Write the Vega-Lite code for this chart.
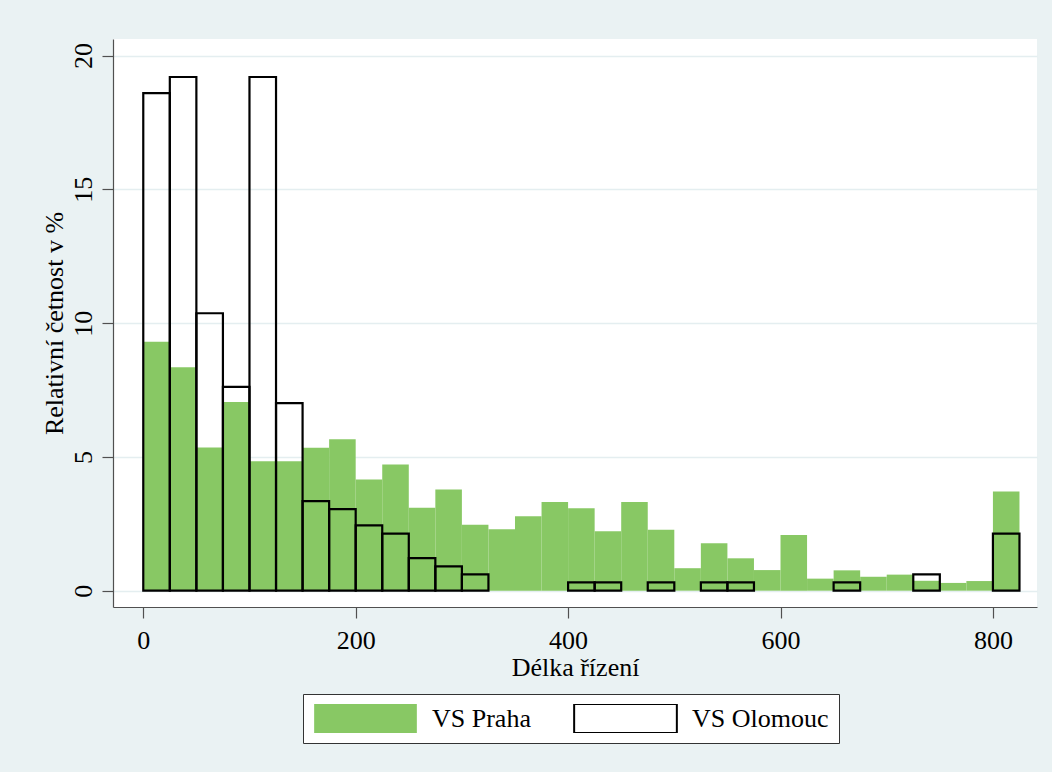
{
  "$schema": "https://vega.github.io/schema/vega-lite/v6.json",
  "width": 924,
  "height": 568,
  "autosize": {"type": "none"},
  "padding": {"left": 113, "top": 39, "right": 15, "bottom": 165},
  "background": "#EAF2F3",
  "config": {
    "view": {"fill": "white", "stroke": null},
    "font": "Liberation Serif",
    "axis": {
      "labelFont": "Liberation Serif",
      "labelFontSize": 26,
      "labelColor": "black",
      "titleFont": "Liberation Serif",
      "titleFontSize": 26,
      "titleFontWeight": "normal",
      "titleColor": "black",
      "domainColor": "#505050",
      "domainWidth": 1.2,
      "tickColor": "#505050",
      "tickWidth": 1.2,
      "tickSize": 11
    }
  },
  "data": {
    "values": [
      {"series": "VS Praha", "lo": 0, "hi": 25, "pct": 9.3},
      {"series": "VS Praha", "lo": 25, "hi": 50, "pct": 8.35},
      {"series": "VS Praha", "lo": 50, "hi": 75, "pct": 5.35},
      {"series": "VS Praha", "lo": 75, "hi": 100, "pct": 7.05},
      {"series": "VS Praha", "lo": 100, "hi": 125, "pct": 4.84},
      {"series": "VS Praha", "lo": 125, "hi": 150, "pct": 4.84},
      {"series": "VS Praha", "lo": 150, "hi": 175, "pct": 5.34},
      {"series": "VS Praha", "lo": 175, "hi": 200, "pct": 5.66},
      {"series": "VS Praha", "lo": 200, "hi": 225, "pct": 4.16},
      {"series": "VS Praha", "lo": 225, "hi": 250, "pct": 4.72},
      {"series": "VS Praha", "lo": 250, "hi": 275, "pct": 3.1},
      {"series": "VS Praha", "lo": 275, "hi": 300, "pct": 3.78},
      {"series": "VS Praha", "lo": 300, "hi": 325, "pct": 2.46},
      {"series": "VS Praha", "lo": 325, "hi": 350, "pct": 2.3},
      {"series": "VS Praha", "lo": 350, "hi": 375, "pct": 2.78},
      {"series": "VS Praha", "lo": 375, "hi": 400, "pct": 3.31},
      {"series": "VS Praha", "lo": 400, "hi": 425, "pct": 3.08},
      {"series": "VS Praha", "lo": 425, "hi": 450, "pct": 2.22},
      {"series": "VS Praha", "lo": 450, "hi": 475, "pct": 3.31},
      {"series": "VS Praha", "lo": 475, "hi": 500, "pct": 2.28},
      {"series": "VS Praha", "lo": 500, "hi": 525, "pct": 0.84},
      {"series": "VS Praha", "lo": 525, "hi": 550, "pct": 1.77},
      {"series": "VS Praha", "lo": 550, "hi": 575, "pct": 1.21},
      {"series": "VS Praha", "lo": 575, "hi": 600, "pct": 0.77},
      {"series": "VS Praha", "lo": 600, "hi": 625, "pct": 2.08},
      {"series": "VS Praha", "lo": 625, "hi": 650, "pct": 0.45},
      {"series": "VS Praha", "lo": 650, "hi": 675, "pct": 0.76},
      {"series": "VS Praha", "lo": 675, "hi": 700, "pct": 0.52},
      {"series": "VS Praha", "lo": 700, "hi": 725, "pct": 0.6},
      {"series": "VS Praha", "lo": 725, "hi": 750, "pct": 0.37},
      {"series": "VS Praha", "lo": 750, "hi": 775, "pct": 0.29},
      {"series": "VS Praha", "lo": 775, "hi": 800, "pct": 0.36},
      {"series": "VS Praha", "lo": 800, "hi": 825, "pct": 3.71},
      {"series": "VS Olomouc", "lo": 0, "hi": 25, "pct": 18.6},
      {"series": "VS Olomouc", "lo": 25, "hi": 50, "pct": 19.2},
      {"series": "VS Olomouc", "lo": 50, "hi": 75, "pct": 10.37},
      {"series": "VS Olomouc", "lo": 75, "hi": 100, "pct": 7.62},
      {"series": "VS Olomouc", "lo": 100, "hi": 125, "pct": 19.2},
      {"series": "VS Olomouc", "lo": 125, "hi": 150, "pct": 7.01},
      {"series": "VS Olomouc", "lo": 150, "hi": 175, "pct": 3.35},
      {"series": "VS Olomouc", "lo": 175, "hi": 200, "pct": 3.05},
      {"series": "VS Olomouc", "lo": 200, "hi": 225, "pct": 2.44},
      {"series": "VS Olomouc", "lo": 225, "hi": 250, "pct": 2.13},
      {"series": "VS Olomouc", "lo": 250, "hi": 275, "pct": 1.22},
      {"series": "VS Olomouc", "lo": 275, "hi": 300, "pct": 0.91},
      {"series": "VS Olomouc", "lo": 300, "hi": 325, "pct": 0.61},
      {"series": "VS Olomouc", "lo": 400, "hi": 425, "pct": 0.31},
      {"series": "VS Olomouc", "lo": 425, "hi": 450, "pct": 0.31},
      {"series": "VS Olomouc", "lo": 475, "hi": 500, "pct": 0.31},
      {"series": "VS Olomouc", "lo": 525, "hi": 550, "pct": 0.31},
      {"series": "VS Olomouc", "lo": 550, "hi": 575, "pct": 0.31},
      {"series": "VS Olomouc", "lo": 650, "hi": 675, "pct": 0.31},
      {"series": "VS Olomouc", "lo": 725, "hi": 750, "pct": 0.61},
      {"series": "VS Olomouc", "lo": 800, "hi": 825, "pct": 2.13}
    ]
  },
  "encoding": {
    "x": {
      "field": "lo",
      "type": "quantitative",
      "title": "Délka řízení",
      "scale": {"domain": [-28.5, 841.5], "nice": false, "zero": false},
      "axis": {"values": [0, 200, 400, 600, 800], "grid": false, "labelPadding": 9, "titlePadding": 1, "labelFlush": false}
    },
    "x2": {"field": "hi"},
    "y": {
      "field": "pct",
      "type": "quantitative",
      "title": "Relativní četnost v %",
      "scale": {"domain": [-0.61, 20.62], "nice": false, "zero": false},
      "axis": {
        "values": [0, 5, 10, 15, 20],
        "grid": true,
        "gridColor": "#E4EEF0",
        "gridWidth": 1.5,
        "labelAngle": -90,
        "labelPadding": 6,
        "titlePadding": 3,
        "labelFlush": false
      }
    },
    "y2": {"datum": 0},
    "fill": {
      "field": "series",
      "type": "nominal",
      "scale": {"domain": ["VS Praha", "VS Olomouc"], "range": ["#88C864", "transparent"]},
      "legend": {
        "title": null,
        "orient": "none",
        "legendX": 190,
        "legendY": 655,
        "direction": "horizontal",
        "symbolType": "M-1,-0.282H1V0.282H-1Z",
        "symbolSize": 10547,
        "symbolStrokeWidth": 2,
        "clipHeight": 29,
        "labelFont": "Liberation Serif",
        "labelFontSize": 26,
        "labelColor": "black",
        "labelOffset": 14,
        "labelLimit": 400,
        "columnPadding": 42,
        "padding": 10,
        "fillColor": "white",
        "strokeColor": "#333333"
      }
    },
    "stroke": {
      "field": "series",
      "type": "nominal",
      "scale": {"domain": ["VS Praha", "VS Olomouc"], "range": ["transparent", "black"]},
      "legend": {
        "title": null,
        "orient": "none",
        "legendX": 190,
        "legendY": 655,
        "direction": "horizontal",
        "symbolType": "M-1,-0.282H1V0.282H-1Z",
        "symbolSize": 10547,
        "symbolStrokeWidth": 2,
        "clipHeight": 29,
        "labelFont": "Liberation Serif",
        "labelFontSize": 26,
        "labelColor": "black",
        "labelOffset": 14,
        "labelLimit": 400,
        "columnPadding": 42,
        "padding": 10,
        "fillColor": "white",
        "strokeColor": "#333333"
      }
    }
  },
  "layer": [
    {
      "transform": [{"filter": "datum.series === 'VS Praha'"}],
      "mark": {"type": "rect", "strokeWidth": 0}
    },
    {
      "transform": [{"filter": "datum.series === 'VS Olomouc'"}],
      "mark": {"type": "rect", "strokeWidth": 2.2}
    }
  ]
}
